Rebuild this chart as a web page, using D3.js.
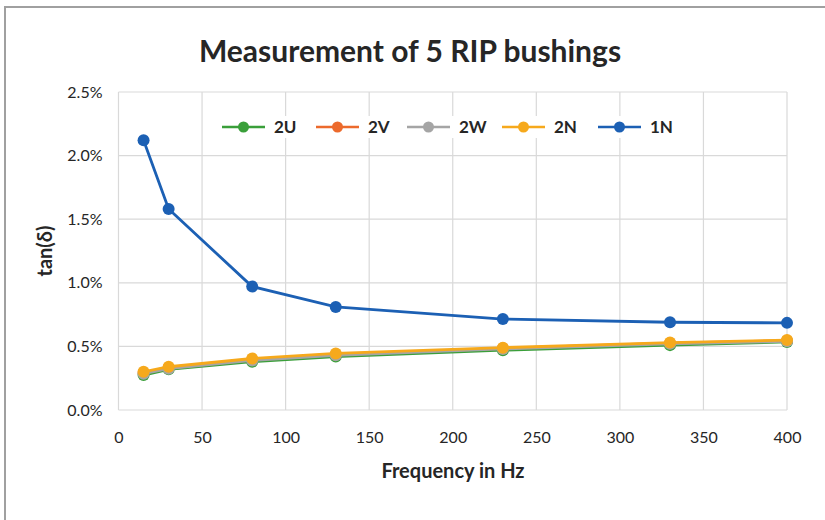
<!DOCTYPE html>
<html>
<head>
<meta charset="utf-8">
<script src="https://cdn.jsdelivr.net/npm/d3@7"></script>
<style>
  body { margin: 0; background: #fff; }
  text { font-family: Lato, "Open Sans", sans-serif; fill: #262626; }
</style>
</head>
<body>
<svg width="825" height="520"></svg>
<script>
// data
var freq = [15, 30, 80, 130, 230, 330, 400];
var s2U = [0.275, 0.32, 0.38, 0.42, 0.47, 0.51, 0.535];
var s2V = [0.29, 0.33, 0.395, 0.435, 0.485, 0.525, 0.545];
var s2W = [0.285, 0.325, 0.39, 0.43, 0.48, 0.52, 0.54];
var s2N = [0.30, 0.34, 0.405, 0.445, 0.49, 0.53, 0.55];
var s1N = [2.12, 1.58, 0.97, 0.81, 0.715, 0.69, 0.685];
var seriesNames = ["2U", "2V", "2W", "2N", "1N"];
var seriesColors = ["#3a9f3a", "#ec6a2c", "#a5a5a5", "#f6a91c", "#1c60b4"];
var xTicks = [0, 50, 100, 150, 200, 250, 300, 350, 400];
var yTicks = [0, 0.5, 1.0, 1.5, 2.0, 2.5];

var series = [s2U, s2V, s2W, s2N, s1N];

var svg = d3.select("svg");
//outer frame (right and bottom are off the picture)
svg.append("rect")
  .attr("x", 5).attr("y", 7)
  .attr("width", 840).attr("height", 540)
  .attr("fill", "none").attr("stroke", "#a0a0a0").attr("stroke-width", 2);

var pLeft = 118.5, pRight = 787, pTop = 92, pBottom = 410;
var x = d3.scaleLinear().domain([0, 400]).range([pLeft, pRight]);
var y = d3.scaleLinear().domain([0, 2.5]).range([pBottom, pTop]);

//grid
var grid = svg.append("g");
grid.selectAll("line.v").data(xTicks).enter().append("line")
  .attr("x1", d => x(d)).attr("x2", d => x(d))
  .attr("y1", pTop).attr("y2", pBottom)
  .attr("stroke", "#d9d9d9").attr("stroke-width", 1.2);
grid.selectAll("line.h").data(yTicks).enter().append("line")
  .attr("x1", pLeft).attr("x2", pRight)
  .attr("y1", d => y(d)).attr("y2", d => y(d))
  .attr("stroke", "#d9d9d9").attr("stroke-width", 1.2);

//axes
var xAxis = svg.append("g")
  .attr("transform", "translate(0," + pBottom + ")")
  .call(d3.axisBottom(x).tickValues(xTicks).tickSize(0).tickPadding(22));
var yAxis = svg.append("g")
  .attr("transform", "translate(" + pLeft + ",0)")
  .call(d3.axisLeft(y).tickValues(yTicks).tickSize(0).tickPadding(16)
    .tickFormat(d => d.toFixed(1) + "%"));
[xAxis, yAxis].forEach(function(a) {
  a.select(".domain").remove();
  a.selectAll("text").style("font-size", "16px").style("font-family", "Lato, sans-serif").attr("fill", "#333");
});

//lines + markers
var line = d3.line().x((d, i) => x(freq[i])).y(d => y(d));
series.forEach(function(s, k) {
  svg.append("path")
    .datum(s)
    .attr("fill", "none")
    .attr("stroke", seriesColors[k])
    .attr("stroke-width", 2.8)
    .attr("d", line);
  svg.selectAll("circle.s" + k).data(s).enter().append("circle")
    .attr("cx", (d, i) => x(freq[i]))
    .attr("cy", d => y(d))
    .attr("r", 6)
    .attr("fill", seriesColors[k]);
});

//title
svg.append("text")
  .attr("x", 410).attr("y", 62)
  .attr("text-anchor", "middle")
  .style("font-size", "30px").style("font-weight", "bold")
  .attr("fill", "#111")
  .text("Measurement of 5 RIP bushings");

//axis titles
svg.append("text")
  .attr("x", 453).attr("y", 478)
  .attr("text-anchor", "middle")
  .style("font-size", "20px").style("font-weight", "bold")
  .text("Frequency in Hz");
svg.append("text")
  .attr("transform", "translate(52,251) rotate(-90)")
  .attr("text-anchor", "middle")
  .style("font-size", "20px").style("font-weight", "bold")
  .text("tan(δ)");

//legend
var legendX = [222, 316, 407, 502, 598];
var legend = svg.selectAll("g.leg").data(seriesNames).enter().append("g")
  .attr("transform", (d, i) => "translate(" + legendX[i] + ",127)");
legend.append("rect")
  .attr("x", -4).attr("y", -11).attr("width", 90).attr("height", 22)
  .attr("fill", "#fff");
legend.append("line")
  .attr("x1", 0).attr("x2", 43)
  .attr("stroke", (d, i) => seriesColors[i]).attr("stroke-width", 2.5);
legend.append("circle")
  .attr("cx", 21.5).attr("r", 5.5)
  .attr("fill", (d, i) => seriesColors[i]);
legend.append("text")
  .attr("x", 52).attr("dy", "0.35em")
  .style("font-size", "17px").style("font-weight", "bold")
  .attr("fill", "#404040")
  .text(d => d);
</script>
</body>
</html>
